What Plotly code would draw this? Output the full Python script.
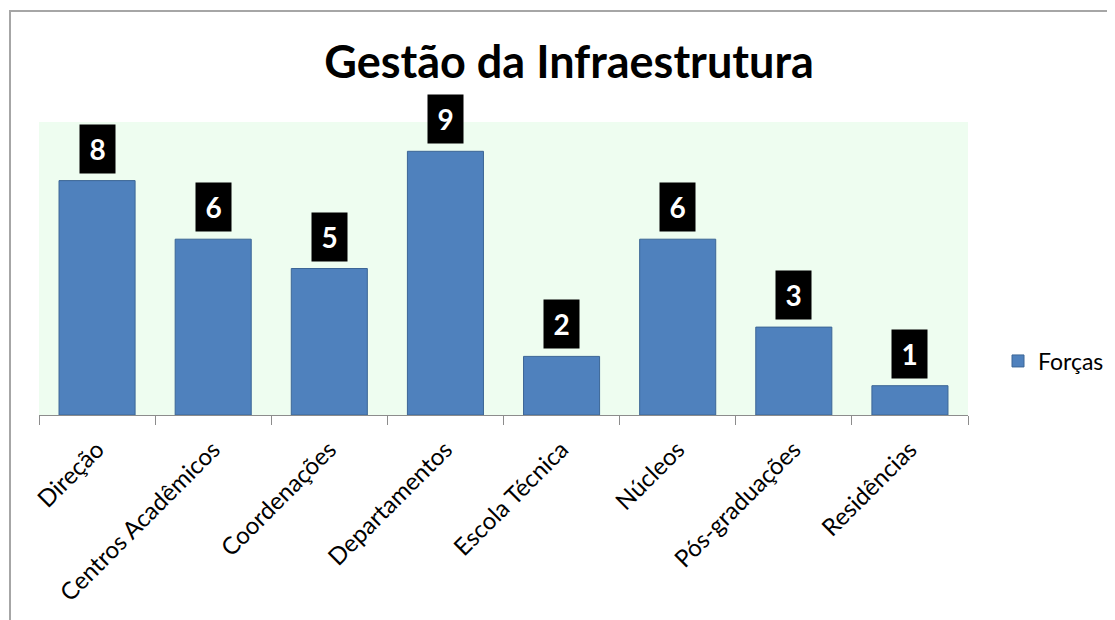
import plotly.graph_objects as go

categories = ["Direção", "Centros Acadêmicos", "Coordenações", "Departamentos",
              "Escola Técnica", "Núcleos", "Pós-graduações", "Residências"]
forcas = [8, 6, 5, 9, 2, 6, 3, 1]
series_name = "Forças"
title_text = "Gestão da Infraestrutura"

OFF = 8  # default page body margin
W, H = 1115 - OFF, 620 - OFF
L, R, T, B = 39 - OFF, 147, 122 - OFF, 205
pw, ph = W - L - R, H - T - B

FONT = "Lato, Calibri, 'Open Sans', sans-serif"

fig = go.Figure()
fig.add_trace(go.Bar(
    x=categories, y=forcas, name=series_name,
    marker=dict(color="#4F81BD", line=dict(color="#3C6696", width=1)),
    showlegend=True,
))

annotations = []
for c, v in zip(categories, forcas):
    annotations.append(dict(
        x=c, y=v, xref="x", yref="y", text=f"<b>{v}</b>",
        showarrow=False, yanchor="bottom", yshift=7,
        bgcolor="#000000", width=33, height=46,
        font=dict(family=FONT, size=28, color="#FFFFFF"),
    ))

fig.update_layout(
    width=W, height=H,
    margin=dict(l=L, r=R, t=T, b=B, autoexpand=False),
    paper_bgcolor="#FFFFFF",
    plot_bgcolor="#EEFDF0",
    bargap=0.345,
    title=dict(text=f"<b>{title_text}</b>", x=(569 - 39) / pw, xref="paper",
               xanchor="center", y=1 - (62 - OFF) / H, yanchor="middle",
               font=dict(family=FONT, size=45, color="#000000")),
    font=dict(family=FONT, color="#000000"),
    legend=dict(x=(998 - 39) / pw, y=(415 - 361) / ph, xanchor="left", yanchor="middle",
                font=dict(family=FONT, size=23, color="#000000"),
                bgcolor="rgba(0,0,0,0)"),
    xaxis=dict(showline=True, linecolor="#8C8C8C", linewidth=1,
               ticks="outside", tickson="boundaries", ticklen=9, tickcolor="#8C8C8C",
               tickangle=-45, ticklabelstandoff=10,
               tickfont=dict(family=FONT, size=24, color="#000000"),
               showgrid=False, fixedrange=True),
    yaxis=dict(range=[0, 10], visible=False, showgrid=False, zeroline=False),
    annotations=annotations,
    shapes=[dict(type="rect", xref="paper", yref="paper",
                 x0=(10 - 39) / pw, x1=1.3, y0=-1.0, y1=1 + (122 - 11) / ph,
                 line=dict(color="#A6A6A6", width=2), fillcolor="rgba(0,0,0,0)",
                 layer="below")],
)

fig.write_html("out.html")
